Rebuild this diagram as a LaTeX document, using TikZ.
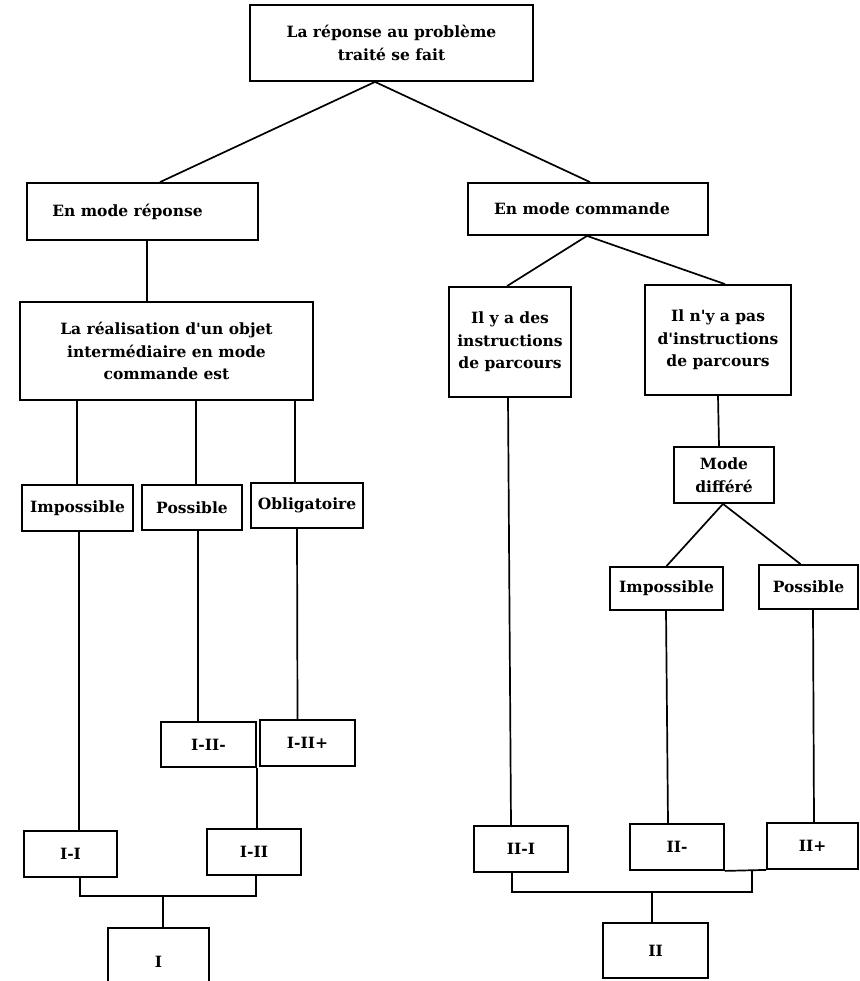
\documentclass[tikz,border=0pt]{standalone}
\usepackage{fontspec}
\setmainfont{DejaVu Serif}
\usetikzlibrary{calc}
\tikzset{
  box/.style={draw, line width=1.8pt, inner sep=0pt, align=center,
    font=\fontsize{15.5}{22.5}\selectfont\bfseries},
  conn/.style={line width=1.7pt},
}
\begin{document}
\begin{tikzpicture}[x=1pt,y=-1pt]
\useasboundingbox (0,0) rectangle (859,981);
\fill[white] (0,0) rectangle (859,981);
\clip (0,0) rectangle (859,981);
% left branch
\node[box, minimum width=283pt, minimum height=76pt] (top) at (391.5,43) {La réponse au problème\\traité se fait};
\node[box, minimum width=231pt, minimum height=57pt] (resp) at (142.5,211.5) {\hspace*{-30pt}En mode réponse};
\node[box, minimum width=293pt, minimum height=98pt] (real) at (166.5,351) {La réalisation d\textquotesingle un objet\\intermédiaire en mode\\commande est};
\node[box, minimum width=111pt, minimum height=46pt] (imp1) at (77.5,508) {Impossible};
\node[box, minimum width=100pt, minimum height=45pt] (pos1) at (192,507.5) {Possible};
\node[box, minimum width=112pt, minimum height=45pt] (obl) at (307,505.5) {Obligatoire};
\node[box, minimum width=95pt, minimum height=45pt] (i2m) at (208.5,744.5) {I-II-};
\node[box, minimum width=95pt, minimum height=46pt] (i2p) at (307.5,743) {I-II+};
\node[box, minimum width=93pt, minimum height=46pt] (ii) at (70.5,854) {I-I};
\node[box, minimum width=94pt, minimum height=46pt] (iii) at (254,852) {I-II};
\node[box, minimum width=101pt, minimum height=67pt] (I) at (158.5,961.5) {I};
% right branch
\node[box, minimum width=240pt, minimum height=52pt] (cmd) at (588,209) {\hspace*{-12pt}En mode commande};
\node[box, minimum width=122pt, minimum height=110pt] (ilya) at (510,342) {Il y a des\\instructions\\de parcours};
\node[box, minimum width=146pt, minimum height=110pt] (ilnya) at (718,340) {Il n\textquotesingle y a pas\\d\textquotesingle instructions\\de parcours};
\node[box, minimum width=100pt, minimum height=56pt] (diff) at (724,475) {Mode\\différé};
\node[box, minimum width=113pt, minimum height=43pt] (imp2) at (666.5,588.5) {Impossible};
\node[box, minimum width=99pt, minimum height=44pt] (pos2) at (808.5,587) {Possible};
\node[box, minimum width=94pt, minimum height=46pt] (IIa) at (521,849) {II-I};
\node[box, minimum width=94pt, minimum height=46pt] (IIm) at (677,847) {II-};
\node[box, minimum width=91pt, minimum height=46pt] (IIp) at (812.5,846) {II+};
\node[box, minimum width=105pt, minimum height=55pt] (II) at (655.5,950.5) {II};
% connectors left
\coordinate (apex) at ($(top.south)+(-16.5,0)$);
\draw[conn] (apex) -- ($(resp.north)+(17.5,0)$);
\draw[conn] (apex) -- ($(cmd.north)+(2,0)$);
\draw[conn] ($(resp.south)+(4.5,0)$) -- ($(real.north)+(-19.5,0)$);
\draw[conn] ($(real.south)+(-89.5,0)$) -- ($(imp1.north)+(-0.5,0)$);
\draw[conn] ($(real.south)+(29.5,0)$) -- ($(pos1.north)+(4,0)$);
\draw[conn] ($(real.south)+(128.5,0)$) -- ($(obl.north)+(-12,0)$);
\draw[conn] ($(imp1.south)+(1.5,0)$) -- ($(ii.north)+(8.5,0)$);
\draw[conn] ($(pos1.south)+(6,0)$) -- ($(i2m.north)+(-10.5,0)$);
\draw[conn] ($(obl.south)+(-10,0)$) -- ($(i2p.north)+(-10,0)$);
\draw[conn] (i2m.south east) -- (iii.north -| i2m.south east);
\coordinate (jI) at (163,896);
\draw[conn] ($(ii.south)+(9.5,0)$) |- (jI) -| ($(iii.south)+(2,0)$);
\draw[conn] (jI) -- (jI |- I.north);
% connectors right
\coordinate (cb) at ($(cmd.south)+(-1,0)$);
\draw[conn] (cb) -- ($(ilya.north)+(-3,0)$);
\draw[conn] (cb) -- ($(ilnya.north)+(7,0)$);
\draw[conn] ($(ilya.south)+(-2,0)$) -- ($(IIa.north)+(-10,0)$);
\draw[conn] (ilnya.south) -- ($(diff.north)+(-5,0)$);
\coordinate (db) at ($(diff.south)+(-1,0)$);
\draw[conn] (db) -- (imp2.north);
\draw[conn] (db) -- ($(pos2.north)+(-8,0)$);
\draw[conn] ($(imp2.south)+(-0.5,0)$) -- ($(IIm.north)+(-9,0)$);
\draw[conn] ($(pos2.south)+(4.5,0)$) -- ($(IIp.north)+(1.5,0)$);
\draw[conn] (IIm.south east) -- (IIp.south west);
\coordinate (jII) at (652,892);
\coordinate (jIIr) at (752,892);
\draw[conn] ($(IIa.south)+(-9,0)$) |- (jIIr) -- (jIIr |- IIm.south east);
\draw[conn] (jII) -- (jII |- II.north);
\end{tikzpicture}
\end{document}
